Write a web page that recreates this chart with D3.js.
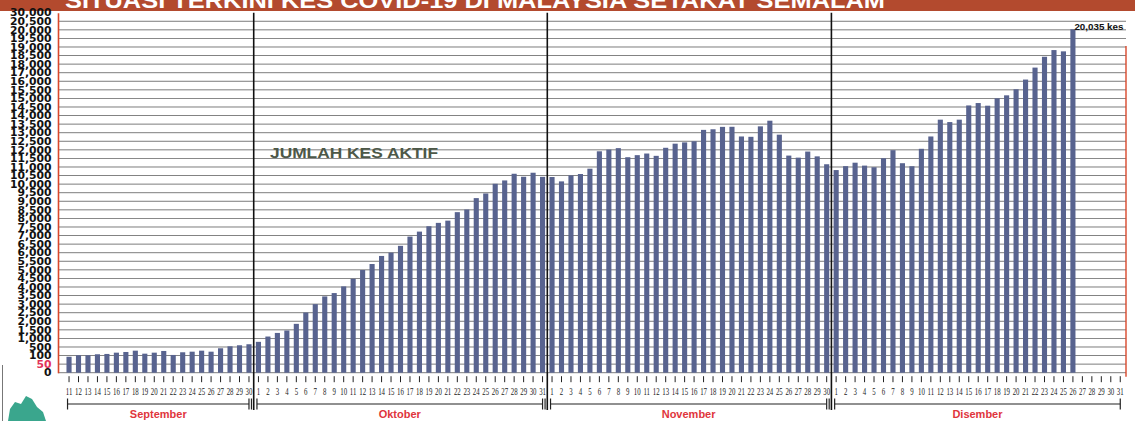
<!DOCTYPE html>
<html>
<head>
<meta charset="utf-8">
<script src="https://cdn.jsdelivr.net/npm/d3@7"></script>
<style>
  body { margin: 0; background: #fff; }
  svg { display: block; }
</style>
</head>
<body>
<svg id="chart" width="1135" height="421"></svg>
<script>
// data (active cases per day)
const monthNames = ['September', 'Oktober', 'November', 'Disember']
const monthFirstDay = [11, 1, 1, 1]
const monthLastDay = [30, 31, 30, 31]

const sepCases = [93, 114, 114, 160, 175, 235, 267, 328, 188, 235, 314, 128, 253, 281, 328, 281, 440, 540, 600, 660]
const octCases = [800, 1110, 1320, 1460, 1850, 2510, 3000, 3450, 3645, 4035, 4480, 4990, 5340, 5810, 6005, 6400,
  6940, 7230, 7545, 7740, 7870, 8365, 8520, 9185, 9455, 10020, 10215, 10605, 10430, 10665, 10425]
const novCases = [10415, 10160, 10510, 10590, 10900, 11915, 12015, 12100, 11570, 11690, 11785, 11650, 12120, 12360,
  12435, 12500, 13165, 13200, 13340, 13345, 12780, 12760, 13370, 13700, 12885, 11665, 11545, 11900, 11620, 11160]
const decCases = [10820, 11050, 11250, 11080, 10985, 11510, 11980, 11220, 11045, 12060, 12780, 13760, 13620,
  13760, 14590, 14730, 14575, 15005, 15180, 15535, 16200, 17595, 18430, 18820, 18745, 20035]

// the printed axis is not linear: every label gets the same spacing
const yTickValues = [0, 50, 100, 500, 1000, 1500, 2000, 2500, 3000, 3500, 4000, 4500, 5000, 5500, 6000, 6500,
  7000, 7500, 8000, 8500, 9000, 9500, 10000, 10500, 11000, 11500, 12000, 12500, 13000, 13500, 14000, 14500,
  15000, 15500, 16000, 17000, 18000, 18500, 19000, 19500, 20000, 20500, 30000]

const title = 'SITUASI TERKINI KES COVID-19 DI MALAYSIA SETAKAT SEMALAM'
const seriesLabel = 'JUMLAH KES AKTIF'

const monthCases = [sepCases, octCases, novCases, decCases]
const days = []
monthNames.forEach((m, i) => {
  for (let d = monthFirstDay[i]; d <= monthLastDay[i]; d++) {
    days.push({ key: m + '-' + d, month: i, day: d, value: monthCases[i][d - monthFirstDay[i]] })
  }
})

const svg = d3.select('#chart')
const plotLeft = 58, plotRight = 1126, plotTop = 12.7, plotBase = 372.7

const x = d3.scaleBand()
  .domain(days.map(d => d.key))
  .range([64.3, 1125])
  .paddingInner(0.46)
  .paddingOuter(0.23)
const bw = x.bandwidth()
const cx = k => x(k) + bw / 2

const yPos = d3.scalePoint().domain(d3.range(yTickValues.length)).range([plotBase, plotTop])
const y = d3.scaleLinear().domain(yTickValues).range(yTickValues.map((v, i) => yPos(i)))

// header band (cut off at the top of the scan)
svg.append('rect').attr('x', 0).attr('y', 0).attr('width', 1135).attr('height', 11).attr('fill', '#b34a2e')
svg.append('text')
  .attr('x', 65).attr('y', 8)
  .attr('textLength', 820).attr('lengthAdjust', 'spacingAndGlyphs')
  .style('font', 'bold 22px "Liberation Sans", Arial, sans-serif')
  .attr('fill', '#fff')
  .text(title)

// gridlines
svg.append('g')
  .selectAll('line')
  .data(yTickValues.filter(v => v < 30000))
  .join('line')
  .attr('x1', plotLeft).attr('x2', plotRight)
  .attr('y1', d => y(d)).attr('y2', d => y(d))
  .attr('stroke', '#333').attr('stroke-width', 0.8).attr('opacity', 0.8)

// y axis
const yAxis = svg.append('g')
  .attr('transform', `translate(${plotLeft},0)`)
  .call(d3.axisLeft(y).tickValues(yTickValues).tickFormat(d3.format(',')).tickSize(0).tickSizeOuter(0).tickPadding(6))
yAxis.select('.domain').attr('stroke', '#d9482b').attr('stroke-width', 1.6)
yAxis.selectAll('text')
  .style('font', 'bold 10px "DejaVu Sans", sans-serif')
  .attr('transform', 'scale(1.08,1)')
  .attr('fill', d => d === 50 ? '#e2335a' : '#111')

// right edge
svg.append('line')
  .attr('x1', plotRight).attr('x2', plotRight).attr('y1', 46).attr('y2', plotBase + 4)
  .attr('stroke', '#d9482b').attr('stroke-width', 1.4)

// bars
svg.append('g')
  .selectAll('rect')
  .data(days.filter(d => d.value != null))
  .join('rect')
  .attr('x', d => x(d.key))
  .attr('y', d => y(d.value))
  .attr('width', bw)
  .attr('height', d => y(0) - y(d.value))
  .attr('fill', '#58638f')

// month separators
const gap = (x.step() - bw) / 2
svg.append('g')
  .selectAll('line')
  .data(monthNames.slice(1).map((m, i) => m + '-' + monthFirstDay[i + 1]))
  .join('line')
  .attr('x1', d => x(d) - gap).attr('x2', d => x(d) - gap)
  .attr('y1', plotTop).attr('y2', 410)
  .attr('stroke', '#111').attr('stroke-width', 1.6)

// x axis: ticks and day numbers
const xAxis = svg.append('g')
  .attr('transform', `translate(0,${plotBase + 3.5})`)
  .call(d3.axisBottom(x).tickFormat(k => k.split('-')[1]).tickSize(6).tickSizeOuter(0).tickPadding(5))
xAxis.select('.domain').remove()
xAxis.selectAll('line').attr('stroke', '#222').attr('stroke-width', 1)
xAxis.selectAll('text')
  .style('font', '11px "Liberation Serif", serif')
  .attr('fill', '#1a1a1a')
  .attr('transform', 'scale(0.62,1)')

// month brackets
const brackets = svg.append('g')
monthNames.forEach((m, i) => {
  const x1 = cx(m + '-' + monthFirstDay[i]) - 1.5
  const x2 = cx(m + '-' + monthLastDay[i])
  const caps = i < monthNames.length - 1 ? [x1, x2, x2 + 2.5] : [x1, x2]
  brackets.append('line').attr('x1', x1).attr('x2', x2).attr('y1', 404).attr('y2', 404)
    .attr('stroke', '#222').attr('stroke-width', 1.2)
  caps.forEach(c => brackets.append('line').attr('x1', c).attr('x2', c).attr('y1', 398.5).attr('y2', 409.5)
    .attr('stroke', '#222').attr('stroke-width', 1.2))
  brackets.append('text')
    .attr('x', (x1 + x2) / 2).attr('y', 417.5)
    .attr('text-anchor', 'middle')
    .style('font', 'bold 11px "Liberation Sans", Arial, sans-serif')
    .attr('fill', '#e0353c')
    .text(m)
})

// series label
svg.append('text')
  .attr('x', 270).attr('y', 158)
  .attr('textLength', 168).attr('lengthAdjust', 'spacingAndGlyphs')
  .style('font', 'bold 15.5px "Liberation Sans", Arial, sans-serif')
  .attr('fill', '#4d5848')
  .text(seriesLabel)

// last value callout
const last = days.filter(d => d.value != null).pop()
svg.append('text')
  .attr('x', cx(last.key) + 1.5).attr('y', y(last.value) + 1)
  .attr('textLength', 49).attr('lengthAdjust', 'spacingAndGlyphs')
  .style('font', 'bold 9px "Liberation Sans", Arial, sans-serif')
  .attr('fill', '#111')
  .text(d3.format(',')(last.value) + ' kes')

// corner logo fragment and scan edge
svg.append('line').attr('x1', 2.5).attr('x2', 2.5).attr('y1', 365).attr('y2', 421).attr('stroke', '#777')
svg.append('path')
  .attr('d', 'M8,421 L10,409 L15,402 L21,404 L26,396 L32,399 L37,407 L43,412 L46,421 Z')
  .attr('fill', '#3aa68d')
</script>
</body>
</html>
